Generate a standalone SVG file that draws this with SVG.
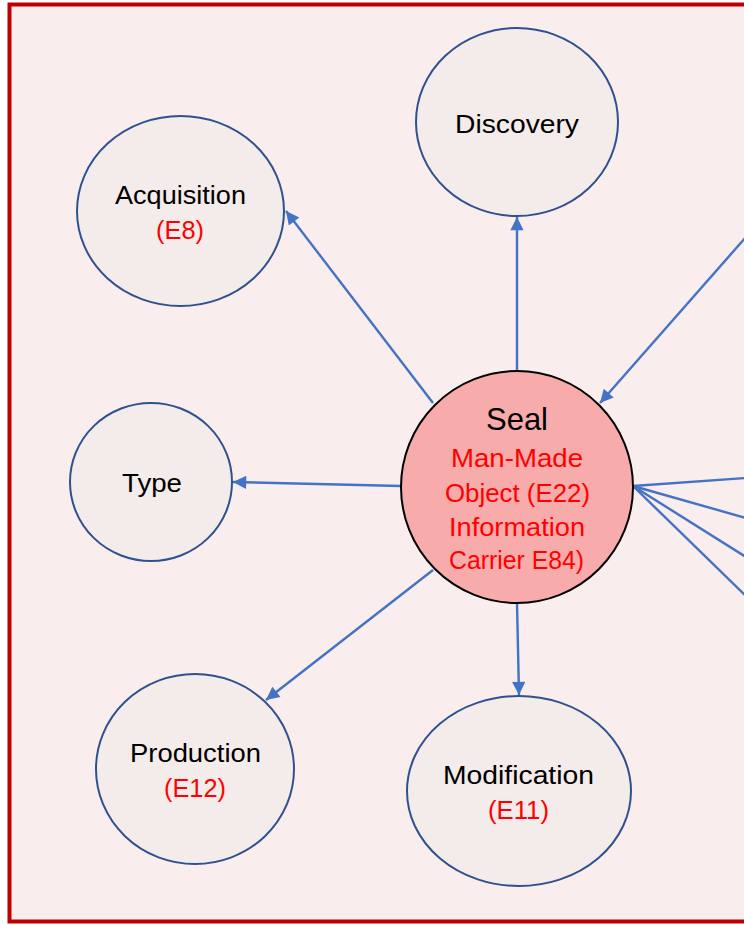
<svg xmlns="http://www.w3.org/2000/svg" width="744" height="925" viewBox="0 0 744 925">
<style>
.bg{fill:#F9EDED;stroke:#C00000;stroke-width:4}
.node{fill:#F4ECEA;stroke:#2F528F;stroke-width:2}
.seal{fill:#F8ABAB;stroke:#000;stroke-width:2}
.lbl{font-family:"Liberation Sans",Arial,sans-serif;font-size:25px;fill:#000;text-anchor:middle}
.red{fill:#FF0000}
.edge{stroke:#4472C4;stroke-width:2.4;fill:none}
</style>
<defs>
<marker id="arr" viewBox="0 0 10 10" refX="10" refY="5" markerWidth="6.5" markerHeight="5.5" markerUnits="strokeWidth" orient="auto">
<path d="M0,0 L10,5 L0,10 z" fill="#4472C4"/>
</marker>
</defs>
<rect class="bg" x="9.5" y="4.5" width="760" height="917"/>
<g id="connectors">
<line class="edge" x1="433" y1="403" x2="286" y2="211" marker-end="url(#arr)"/>
<line class="edge" x1="517" y1="370" x2="517" y2="217" marker-end="url(#arr)"/>
<line class="edge" x1="746" y1="237" x2="600" y2="403" marker-end="url(#arr)"/>
<line class="edge" x1="401" y1="486" x2="233" y2="482" marker-end="url(#arr)"/>
<line class="edge" x1="433" y1="570" x2="266" y2="700" marker-end="url(#arr)"/>
<line class="edge" x1="517" y1="603" x2="519" y2="695" marker-end="url(#arr)"/>
<line class="edge" x1="633" y1="486" x2="746" y2="478"/>
<line class="edge" x1="633" y1="486" x2="746" y2="518"/>
<line class="edge" x1="633" y1="486" x2="746" y2="557"/>
<line class="edge" x1="633" y1="486" x2="746" y2="596"/>
</g>
<g id="discovery">
<ellipse class="node" cx="517" cy="122" rx="101" ry="94"/>
<text class="lbl" x="517" y="133" textLength="124" lengthAdjust="spacingAndGlyphs">Discovery</text>
</g>
<g id="acquisition">
<ellipse class="node" cx="180.5" cy="211" rx="103.5" ry="95"/>
<text class="lbl" x="180.5" y="204" textLength="131" lengthAdjust="spacingAndGlyphs">Acquisition</text>
<text class="lbl red" x="180" y="239" textLength="48" lengthAdjust="spacingAndGlyphs">(E8)</text>
</g>
<g id="type">
<ellipse class="node" cx="151" cy="482" rx="81" ry="79"/>
<text class="lbl" x="152" y="492" textLength="60" lengthAdjust="spacingAndGlyphs">Type</text>
</g>
<g id="production">
<ellipse class="node" cx="195" cy="769" rx="99" ry="95"/>
<text class="lbl" x="195.5" y="762" textLength="131" lengthAdjust="spacingAndGlyphs">Production</text>
<text class="lbl red" x="195" y="797" textLength="62" lengthAdjust="spacingAndGlyphs">(E12)</text>
</g>
<g id="modification">
<ellipse class="node" cx="519" cy="791" rx="112" ry="95"/>
<text class="lbl" x="518.5" y="784" textLength="151" lengthAdjust="spacingAndGlyphs">Modification</text>
<text class="lbl red" x="518.5" y="819" textLength="61" lengthAdjust="spacingAndGlyphs">(E11)</text>
</g>
<g id="seal">
<circle class="seal" cx="517" cy="487" r="116"/>
<text class="lbl" x="517" y="430" style="font-size:32px" textLength="62" lengthAdjust="spacingAndGlyphs">Seal</text>
<text class="lbl red" x="517" y="467" textLength="132" lengthAdjust="spacingAndGlyphs">Man-Made</text>
<text class="lbl red" x="517.5" y="502" textLength="145" lengthAdjust="spacingAndGlyphs">Object (E22)</text>
<text class="lbl red" x="517" y="536" textLength="136" lengthAdjust="spacingAndGlyphs">Information</text>
<text class="lbl red" x="516.5" y="569" textLength="135" lengthAdjust="spacingAndGlyphs">Carrier E84)</text>
</g>
</svg>
